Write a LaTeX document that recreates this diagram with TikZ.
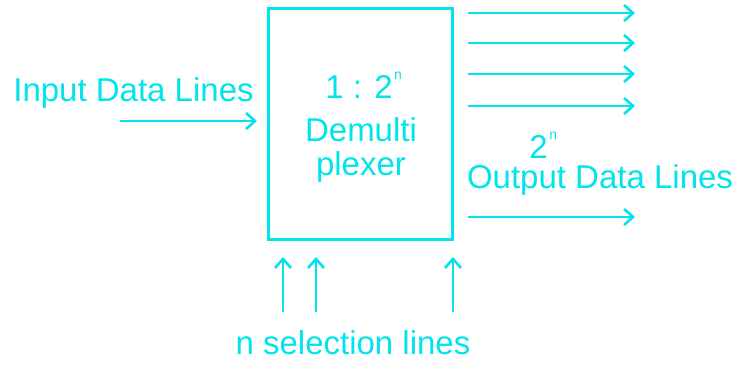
\documentclass[tikz,border=0pt]{standalone}
\usepackage{fontspec}
\setmainfont{Liberation Sans}
\usetikzlibrary{arrows.meta}
\definecolor{cy}{RGB}{0,228,236}
\newcommand{\supn}{\hspace{1.5pt}\raisebox{19pt}{\fontsize{14}{15}\selectfont n}}
\begin{document}
\begin{tikzpicture}[x=1pt,y=-1pt,
  line width=2.8pt, draw=cy,
  lbl/.style={text=cy,font=\fontsize{33}{38}\selectfont,inner sep=0pt},
  arr/.style={draw=cy,line width=2.6pt,-{Straight Barb[length=9pt,width=16pt,line width=2.6pt]}}]
\useasboundingbox (0,0) rectangle (738,365);
\node[draw=cy,line width=2.8pt,minimum width=184pt,minimum height=231pt,inner sep=0pt] (box) at (360.5,124) {};
\node[lbl,anchor=base west] (t1) at (324,98) {1 : 2\supn};
\node[lbl] (t2) at (361,130) {Demulti};
\node[lbl] (t3) at (361,167) {plexer};
\node[lbl] (inl) at (133.5,93) {Input Data Lines};
\coordinate (ina) at (120,121);
\coordinate (inb) at (257,121);
\draw[arr] (ina) -- (inb);
\foreach \i/\y in {1/13,2/43,3/74,4/106,5/217}{
  \coordinate (oa\i) at (468,\y);
  \coordinate (ob\i) at (635,\y);
  \draw[arr] (oa\i) -- (ob\i);
}
\node[lbl,anchor=base west] (two) at (528,158) {2\supn};
\node[lbl] (outl) at (600,180) {Output Data Lines};
\foreach \i/\x in {1/283,2/316,3/453}{
  \coordinate (sa\i) at (\x,312);
  \coordinate (sb\i) at (\x,257);
  \draw[arr] (sa\i) -- (sb\i);
}
\node[lbl] (sel) at (353,343) {n selection lines};
\end{tikzpicture}
\end{document}
